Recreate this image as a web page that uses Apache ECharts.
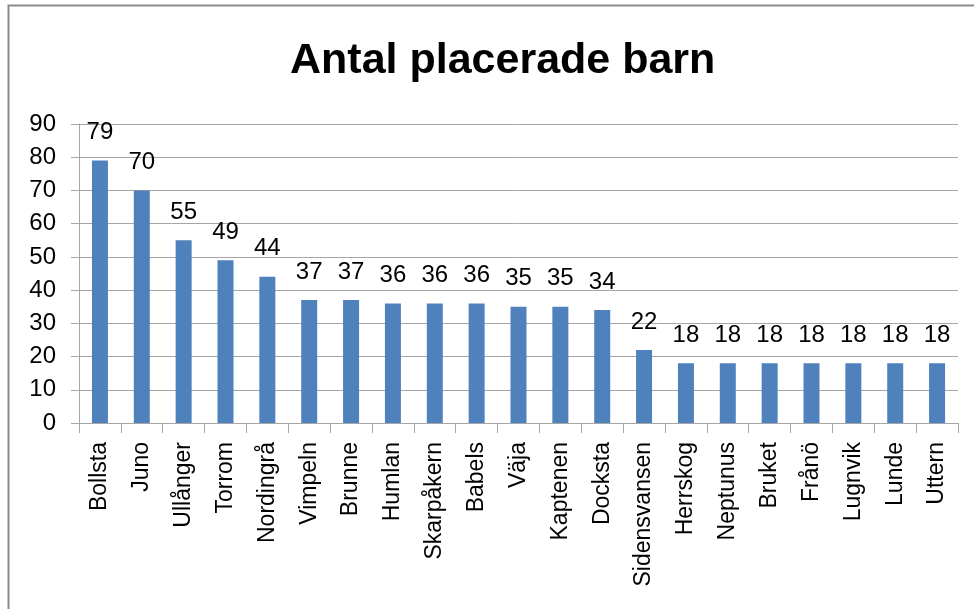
<!DOCTYPE html>
<html lang="sv">
<head>
<meta charset="UTF-8">
<title>Antal placerade barn</title>
<script src="https://cdn.jsdelivr.net/npm/echarts@6.0.0/dist/echarts.min.js"></script>
<style>
  html, body { margin: 0; padding: 0; background: #fff; }
</style>
</head>
<body>
<div id="main" style="width: 974px; height: 609px;"></div>
<script type="text/javascript">
// chart data
const categories = ['Bollsta', 'Juno', 'Ullånger', 'Torrom', 'Nordingrå', 'Vimpeln', 'Brunne',
  'Humlan', 'Skarpåkern', 'Babels', 'Väja', 'Kaptenen', 'Docksta', 'Sidensvansen', 'Herrskog',
  'Neptunus', 'Bruket', 'Frånö', 'Lugnvik', 'Lunde', 'Uttern'];
const values = [79, 70, 55, 49, 44, 37, 37, 36, 36, 36, 35, 35, 34, 22, 18, 18, 18, 18, 18, 18, 18];
const yTicks = [0, 10, 20, 30, 40, 50, 60, 70, 80, 90];

const font = '"Liberation Sans", Arial, sans-serif';
const gray = '#a6a6a6';

let myChart = echarts.init(document.getElementById('main'));

let options = {
  animation: false,
  title: {
    text: 'Antal placerade barn',
    left: 285,
    top: 35,
    textStyle: { fontFamily: font, fontSize: 43, fontWeight: 'bold', color: '#000' }
  },
  graphic: [{
    type: 'rect',
    shape: { x: 8.5, y: 5.5, width: 1000, height: 700 },
    style: { fill: 'none', stroke: '#8c8c8c', lineWidth: 2 },
    silent: true
  }],
  grid: { left: 79, right: 16, top: 124, bottom: 186 },
  xAxis: {
    type: 'category',
    data: categories,
    axisLine: { lineStyle: { color: gray, width: 1 } },
    axisTick: { show: true, length: 10, lineStyle: { color: gray } },
    axisLabel: {
      rotate: 90,
      margin: 19,
      interval: 0,
      fontFamily: font,
      fontSize: 23,
      color: '#000'
    }
  },
  yAxis: {
    type: 'value',
    min: yTicks[0],
    max: yTicks[yTicks.length - 1],
    interval: 10,
    axisLine: { show: true, lineStyle: { color: gray, width: 1 } },
    axisTick: { show: true, length: 8, lineStyle: { color: gray } },
    splitLine: { lineStyle: { color: gray, width: 1 } },
    axisLabel: { margin: 23, fontFamily: font, fontSize: 24, color: '#000' }
  },
  series: [{
    name: 'Antal placerade barn',
    type: 'bar',
    data: values,
    barWidth: 16,
    itemStyle: { color: '#4f81bd' },
    label: {
      show: true,
      position: 'top',
      distance: 16,
      fontFamily: font,
      fontSize: 24,
      color: '#000'
    }
  }]
};

myChart.setOption(options);
</script>
</body>
</html>
